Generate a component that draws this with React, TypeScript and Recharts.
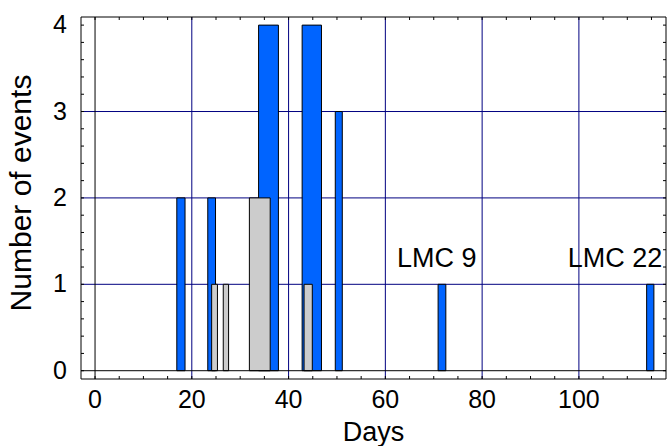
import React from 'react';
import {
  ComposedChart,
  XAxis,
  YAxis,
  CartesianGrid,
  ReferenceArea,
  ReferenceLine,
  Scatter,
} from 'recharts';

// ---- data ----
const blueStart = [16.9, 23.3, 33.8, 42.8, 49.65, 70.9, 114.0];
const blueEnd = [18.6, 24.9, 37.9, 46.8, 51.1, 72.5, 115.5];
const blueCount = [2, 2, 4, 4, 3, 1, 1];

const grayStart = [24.1, 26.5, 31.9, 43.2];
const grayEnd = [25.3, 27.6, 36.2, 44.9];
const grayCount = [1, 1, 2, 1];

const xTickLabels = [0, 20, 40, 60, 80, 100];
const yTickLabels = [0, 1, 2, 3, 4];
const xMinorTicks = [0, 5, 10, 15, 20, 25, 30, 35, 40, 45, 50, 55, 60, 65, 70, 75, 80, 85, 90, 95, 100, 105, 110, 115];
const yMinorTicks = [0, 0.2, 0.4, 0.6, 0.8, 1, 1.2, 1.4, 1.6, 1.8, 2, 2.2, 2.4, 2.6, 2.8, 3, 3.2, 3.4, 3.6, 3.8, 4];
const xGrid = [20, 40, 60, 80, 100];
const yGrid = [1, 2, 3];

const annotationText = ['LMC 9', 'LMC 22'];
const annotationX = [62.4, 97.7];
const annotationY = [1.2, 1.2];

const annotations = annotationText.map((t, i) => ({ x: annotationX[i], y: annotationY[i], label: t }));

const X_DOMAIN: [number, number] = [-2.9, 118];
const Y_DOMAIN: [number, number] = [-0.096, 4.094];

const FONT = '"Liberation Sans", Arial, Helvetica, sans-serif';
const TICK_FS = 25;
const LABEL_FS = 27;

const isLabel = (v: number, arr: number[]) => arr.some((a) => Math.abs(a - v) < 1e-6);

const BottomTick = (props: any) => {
  const { x, y, payload } = props;
  const v = payload.value;
  return (
    <g>
      <line x1={x} y1={y} x2={x} y2={y - 3} stroke="#000" strokeWidth={1} />
      {isLabel(v, xTickLabels) && (
        <text x={x} y={y + 29} textAnchor="middle" fontFamily={FONT} fontSize={TICK_FS} fill="#000">
          {v}
        </text>
      )}
    </g>
  );
};

const TopTick = (props: any) => {
  const { x, y } = props;
  return <line x1={x} y1={y} x2={x} y2={y + 3} stroke="#000" strokeWidth={1} />;
};

const LeftTick = (props: any) => {
  const { x, y, payload } = props;
  const v = payload.value;
  return (
    <g>
      <line x1={x} y1={y} x2={x + 3} y2={y} stroke="#000" strokeWidth={1} />
      {isLabel(v, yTickLabels) && (
        <text x={x - 14} y={y + 8} textAnchor="end" fontFamily={FONT} fontSize={TICK_FS} fill="#000">
          {v}
        </text>
      )}
    </g>
  );
};

const RightTick = (props: any) => {
  const { x, y } = props;
  return <line x1={x} y1={y} x2={x - 3} y2={y} stroke="#000" strokeWidth={1} />;
};

const AnnotationShape = (props: any) => {
  const { cx, cy, payload } = props;
  return (
    <text x={cx} y={cy} textAnchor="start" fontFamily={FONT} fontSize={LABEL_FS} fill="#000">
      {payload.label}
    </text>
  );
};

export default function App() {
  return (
    <div style={{ position: 'absolute', left: 0, top: 0, width: 667, height: 446, background: '#fff' }}>
      <ComposedChart
        width={667}
        height={446}
        data={annotations}
        margin={{ top: 16, right: 0, bottom: 0, left: 0 }}
      >
        <XAxis
          dataKey="x"
          type="number"
          domain={X_DOMAIN}
          allowDataOverflow
          ticks={xMinorTicks}
          interval={0}
          tickSize={0}
          tickMargin={0}
          tickLine={false}
          axisLine={{ stroke: '#000', strokeWidth: 1 }}
          tick={BottomTick}
          height={67}
        />
        <XAxis
          xAxisId="top"
          dataKey="x"
          orientation="top"
          type="number"
          domain={X_DOMAIN}
          allowDataOverflow
          ticks={xMinorTicks}
          interval={0}
          tickSize={0}
          tickMargin={0}
          tickLine={false}
          axisLine={{ stroke: '#000', strokeWidth: 1 }}
          tick={TopTick}
          height={1}
        />
        <YAxis
          dataKey="y"
          type="number"
          domain={Y_DOMAIN}
          allowDataOverflow
          ticks={yMinorTicks}
          interval={0}
          tickSize={0}
          tickMargin={0}
          tickLine={false}
          axisLine={{ stroke: '#000', strokeWidth: 1 }}
          tick={LeftTick}
          width={81}
        />
        <YAxis
          yAxisId="right"
          dataKey="y"
          orientation="right"
          type="number"
          domain={Y_DOMAIN}
          allowDataOverflow
          ticks={yMinorTicks}
          interval={0}
          tickSize={0}
          tickMargin={0}
          tickLine={false}
          axisLine={{ stroke: '#000', strokeWidth: 1 }}
          tick={RightTick}
          width={1}
        />
        <CartesianGrid
          verticalValues={xGrid}
          horizontalValues={yGrid}
          stroke="#000080"
          strokeWidth={1}
        />
        <ReferenceLine x={0} stroke="#000" strokeWidth={1} />
        <ReferenceLine y={0} stroke="#000" strokeWidth={1} />
        {blueStart.map((s, i) => (
          <ReferenceArea
            key={'b' + i}
            x1={s}
            x2={blueEnd[i]}
            y1={0}
            y2={blueCount[i]}
            fill="#0064ff"
            fillOpacity={1}
            stroke="#000"
            strokeWidth={1}
          />
        ))}
        {grayStart.map((s, i) => (
          <ReferenceArea
            key={'g' + i}
            x1={s}
            x2={grayEnd[i]}
            y1={0}
            y2={grayCount[i]}
            fill="#cccccc"
            fillOpacity={1}
            stroke="#000"
            strokeWidth={1}
          />
        ))}
        <Scatter dataKey="y" isAnimationActive={false} shape={AnnotationShape} />
      </ComposedChart>
      <svg
        width={667}
        height={446}
        style={{ position: 'absolute', left: 0, top: 0, pointerEvents: 'none' }}
      >
        <text x={373.5} y={441} textAnchor="middle" fontFamily={FONT} fontSize={LABEL_FS} fill="#000">
          Days
        </text>
        <text
          x={0}
          y={0}
          transform="translate(31,193) rotate(-90)"
          textAnchor="middle"
          fontFamily={FONT}
          fontSize={30}
          fill="#000"
        >
          Number of events
        </text>
      </svg>
    </div>
  );
}
